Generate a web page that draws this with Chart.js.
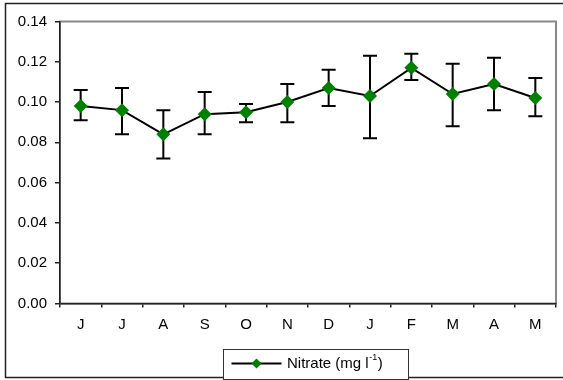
<!DOCTYPE html>
<html>
<head>
<meta charset="utf-8">
<script src="https://cdn.jsdelivr.net/npm/chart.js@4/dist/chart.umd.min.js"></script>
<style>
  html, body { margin: 0; padding: 0; background: #fff; }
  #wrap { width: 563px; height: 380px; }
</style>
</head>
<body>
<div id="wrap"><canvas id="c" width="563" height="380"></canvas></div>
<script>
const categories = ['J','J','A','S','O','N','D','J','F','M','A','M'];
const nitrate    = [0.098,0.096,0.084,0.094,0.095,0.100,0.107,0.103,0.117,0.104,0.109,0.102];
const errUpper   = [0.106,0.107,0.096,0.105,0.099,0.109,0.116,0.123,0.124,0.119,0.122,0.112];
const errLower   = [0.091,0.084,0.072,0.084,0.090,0.090,0.098,0.082,0.111,0.088,0.096,0.093];
const yTickValues = [0,0.02,0.04,0.06,0.08,0.10,0.12,0.14];
const yTickLabels = ['0.00','0.02','0.04','0.06','0.08','0.10','0.12','0.14'];
const seriesName = 'Nitrate (mg l';
const seriesSup = '-1';
const seriesEnd = ')';

const FONT = '"Liberation Sans", Arial, sans-serif';
const GREEN = '#008000';

const framePlugin = {
  id: 'frame',
  beforeDraw(chart) {
    const ctx = chart.ctx, a = chart.chartArea;
    ctx.save();
    ctx.fillStyle = '#fff';
    ctx.fillRect(0, 0, chart.width, chart.height);
    ctx.strokeStyle = '#888';
    ctx.lineWidth = 2;
    ctx.strokeRect(a.left, a.top, a.right - a.left, a.bottom - a.top);
    ctx.restore();
  },
  afterDraw(chart) {
    const ctx = chart.ctx;
    ctx.save();
    // outer frame
    ctx.strokeStyle = '#222';
    ctx.lineWidth = 1.5;
    ctx.strokeRect(5.5, 3.5, 600, 374);
    // legend box
    const lx = 223, ly = 349, lw = 185, lh = 30;
    ctx.lineWidth = 1;
    ctx.strokeStyle = '#333';
    ctx.fillStyle = '#fff';
    ctx.fillRect(lx, ly, lw, lh);
    ctx.strokeRect(lx + 0.5, ly + 0.5, lw, lh);
    const cy = 363.5;
    ctx.strokeStyle = '#000';
    ctx.lineWidth = 2;
    ctx.beginPath();
    ctx.moveTo(231.5, cy);
    ctx.lineTo(281.5, cy);
    ctx.stroke();
    ctx.fillStyle = GREEN;
    const r = 5;
    ctx.beginPath();
    ctx.moveTo(256.5 - r, cy);
    ctx.lineTo(256.5, cy - r);
    ctx.lineTo(256.5 + r, cy);
    ctx.lineTo(256.5, cy + r);
    ctx.closePath();
    ctx.fill();
    ctx.fillStyle = '#000';
    ctx.textBaseline = 'middle';
    ctx.textAlign = 'left';
    ctx.font = '15px ' + FONT;
    let x = 287;
    ctx.fillText(seriesName, x, cy);
    x += ctx.measureText(seriesName).width + 0.5;
    ctx.font = '9px ' + FONT;
    ctx.fillText(seriesSup, x, cy - 6);
    x += ctx.measureText(seriesSup).width + 0.5;
    ctx.font = '15px ' + FONT;
    ctx.fillText(seriesEnd, x, cy);
    ctx.restore();
  }
};

const errorBarPlugin = {
  id: 'errorBars',
  beforeDatasetsDraw(chart) {
    const ctx = chart.ctx;
    const xs = chart.scales.x, ys = chart.scales.y;
    ctx.save();
    ctx.strokeStyle = '#000';
    ctx.lineWidth = 2;
    const cap = 7;
    for (let i = 0; i < nitrate.length; i++) {
      const px = xs.getPixelForValue(i);
      const pu = ys.getPixelForValue(errUpper[i]);
      const pl = ys.getPixelForValue(errLower[i]);
      ctx.beginPath();
      ctx.moveTo(px, pu); ctx.lineTo(px, pl);
      ctx.moveTo(px - cap, pu); ctx.lineTo(px + cap, pu);
      ctx.moveTo(px - cap, pl); ctx.lineTo(px + cap, pl);
      ctx.stroke();
    }
    ctx.restore();
  }
};

new Chart(document.getElementById('c'), {
  type: 'line',
  data: {
    labels: categories,
    datasets: [{
      label: 'Nitrate (mg l⁻¹)',
      data: nitrate,
      borderColor: '#000',
      borderWidth: 2,
      pointStyle: 'rectRot',
      pointRadius: 7,
      pointHoverRadius: 7,
      pointBackgroundColor: GREEN,
      pointBorderColor: GREEN,
      pointBorderWidth: 0,
      tension: 0,
      fill: false
    }]
  },
  options: {
    responsive: false,
    animation: false,
    events: [],
    layout: { padding: { left: 0, right: 1.5, top: 21.5, bottom: 0 } },
    plugins: { legend: { display: false }, tooltip: { enabled: false } },
    scales: {
      x: {
        type: 'category',
        offset: true,
        afterFit(scale) { scale.height = 76.5; },
        grid: { display: true, drawOnChartArea: false, drawTicks: true, tickLength: 4, offset: true, color: '#222', lineWidth: 1.5 },
        border: { display: true, color: '#222', width: 1.5 },
        ticks: { color: '#000', padding: 8, maxRotation: 0, autoSkip: false, font: { family: FONT, size: 15 } }
      },
      y: {
        min: 0,
        max: 0.14,
        afterFit(scale) { scale.width = 60; },
        afterBuildTicks(scale) { scale.ticks = yTickValues.map(v => ({ value: v })); },
        grid: { display: true, drawOnChartArea: false, drawTicks: true, tickLength: 5, color: '#222', lineWidth: 1.5 },
        border: { display: true, color: '#222', width: 1.5 },
        ticks: {
          color: '#000', padding: 8,
          font: { family: FONT, size: 15 },
          callback(value, index) { return yTickLabels[index]; }
        }
      }
    }
  },
  plugins: [framePlugin, errorBarPlugin]
});
</script>
</body>
</html>
